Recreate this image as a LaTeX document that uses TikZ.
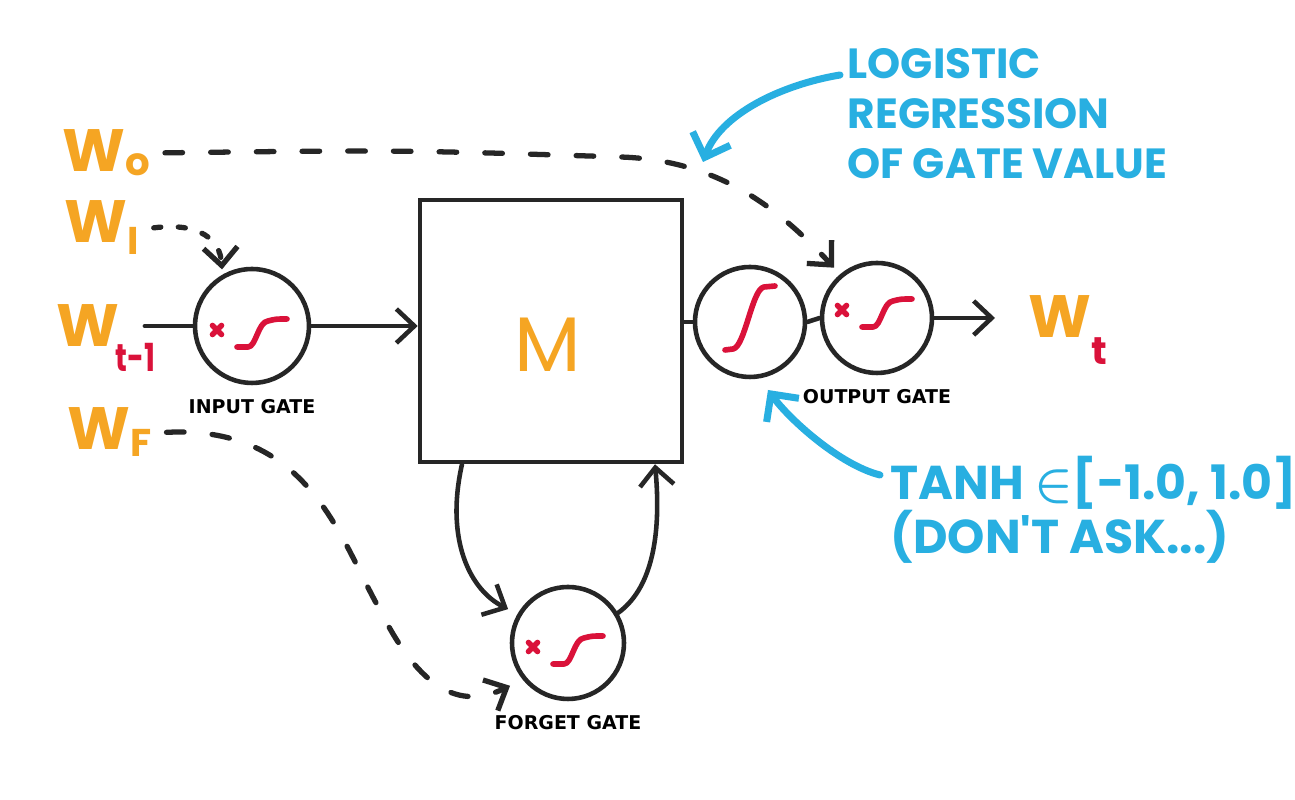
\documentclass[tikz,border=0pt]{standalone}
\usepackage{amsmath}
\usepackage{fontspec}
\setmainfont{DejaVu Sans}
\newfontfamily\handfont{Poppins}
\usepackage{tikz}
\usetikzlibrary{arrows.meta,positioning}
\definecolor{inkgray}{RGB}{38,38,38}
\definecolor{penorange}{RGB}{245,165,35}
\definecolor{penred}{RGB}{218,18,58}
\definecolor{penblue}{RGB}{40,175,225}
\newcommand{\wsub}[3]{\raisebox{#1}{\fontsize{11}{11}\selectfont\color{#2}#3}}

\begin{document}
\begin{tikzpicture}[
  ink/.style={draw=inkgray, line width=1.3pt, line cap=round},
  gate/.style={circle, draw=inkgray, line width=1.3pt, minimum size=1.12cm, inner sep=0pt},
  arr/.style={-{Straight Barb[length=1.8mm,width=3.4mm]}},
  dashline/.style={draw=inkgray, line width=1.5pt, line cap=round, dash pattern=on 5pt off 8pt},
  dotline/.style={draw=inkgray, line width=1.5pt, line cap=round, dash pattern=on 2pt off 5pt},
  wlab/.style={text=penorange, font=\handfont\bfseries\fontsize{17}{17}\selectfont, inner sep=4pt},
  gatelab/.style={font=\bfseries\fontsize{5.4}{6}\selectfont, inner sep=1pt},
  bluetxt/.style={text=penblue, align=left, inner sep=0pt},
  bluearr/.style={draw=penblue, line width=2pt, line cap=round, -{Straight Barb[length=2mm,width=4mm]}},
  sig/.style={draw=penred, line width=1.6pt, line cap=round, line join=round},
  xsig/.pic={
    \draw[sig] (-0.395,-0.085) -- (-0.305,0.005) (-0.395,0.005) -- (-0.305,-0.085);
    \draw[sig] (-0.15,-0.21) -- (-0.04,-0.21) .. controls (0.04,-0.21) and (0.06,0.04) .. (0.16,0.05)
      .. controls (0.24,0.07) .. (0.35,0.07);
  },
  tanhsig/.pic={
    \draw[sig] (-0.25,-0.28) -- (-0.17,-0.27) .. controls (-0.05,-0.25) and (0.02,0.33) .. (0.14,0.35) -- (0.25,0.36);
  },
]
% Fondo y marco
\fill[white] (0,0) rectangle (12.95,8);
\useasboundingbox (0,0) rectangle (12.95,8);

% Compuertas y memoria
\node[gate, minimum size=1.14cm] (ingate) at (2.52,4.74) {};
\node[draw=inkgray, line width=1.3pt, minimum size=2.62cm, inner sep=0pt] (mem) at (5.51,4.69) {};
\node[text=penorange, font=\handfont\fontsize{22}{22}\selectfont] (mlab) at (5.48,4.55) {M};
\node[gate, minimum size=1.10cm] (tanhgate) at (7.50,4.78) {};
\node[gate, minimum size=1.10cm] (outgate) at (8.77,4.82) {};
\node[gate] (forget) at (5.68,1.57) {};

% Etiquetas de las compuertas
\node[gatelab, below=0.1cm of ingate] (inlab) {INPUT GATE};
\node[gatelab, below=0.1cm of outgate] (outlab) {OUTPUT GATE};
\node[gatelab, below=0.1cm of forget] (forlab) {FORGET GATE};

% Sigmoides
\pic at (ingate) {xsig};
\pic at ([yshift=0.12cm]outgate.center) {xsig};
\pic at (forget) {xsig};
\pic at (tanhgate) {tanhsig};

% Entradas
\node[wlab, anchor=base west] (w0) at (0.48,6.28) {W\wsub{-0.1ex}{penorange}{o}};
\node[wlab, anchor=base west] (wi) at (0.50,5.57) {W\wsub{-0.35ex}{penorange}{I}};
\node[wlab, anchor=base west] (wprev) at (0.42,4.53)
  {W\hspace{-0.04cm}\wsub{-0.75ex}{penred}{\scalebox{0.75}[1]{t-1}}};
\node[wlab, anchor=base west] (wf) at (0.53,3.50) {W\wsub{-0.2ex}{penorange}{F}};
\node[wlab, anchor=base west] (wt) at (10.14,4.62) {W\wsub{-0.8ex}{penred}{t}};

% Conexiones
\draw[ink] ([xshift=-0.25cm]wprev.east |- ingate.west) -- (ingate.west);
\draw[ink, arr] (ingate.east) -- (mem.west |- ingate.east);
\draw[ink] (mem.east |- tanhgate.west) -- (tanhgate.west);
\draw[ink] (tanhgate.east) -- (outgate.west);
\coordinate (outend) at (9.95,4.82);
\draw[ink, arr] (outgate.east) -- (outend);

% Bucle de olvido
\draw[ink, arr, shorten >=3pt] ([xshift=-0.89cm]mem.south) .. controls (4.45,2.6) and (4.7,2.1) .. (forget.150);
\draw[ink, arr] (forget.31) .. controls (6.5,2.1) and (6.62,2.6) .. ([xshift=1.04cm]mem.south);

% Pesos de las compuertas (discontinuas)
\draw[dashline, arr, shorten >=2.5pt] (w0.east) .. controls (4.0,6.5) .. (6.2,6.43)
  .. controls (7.2,6.4) and (7.8,5.9) .. (outgate.130);
\draw[dotline, arr, shorten >=1.5pt] (wi.east) .. controls (2.0,5.78) and (2.2,5.6) .. (ingate.120);
\draw[dashline, arr, shorten >=4pt] (wf.east) .. controls (3.1,3.75) and (3.4,2.6) .. (3.8,1.9)
  .. controls (4.2,1.1) and (4.6,0.9) .. (forget.219);

% Notas en azul
\node[bluetxt, anchor=north west, font=\handfont\bfseries\fontsize{12}{14.2}\selectfont] (logit) at (8.47,7.52)
  {LOGISTIC\\REGRESSION\\OF GATE VALUE};
\coordinate (logtip) at (7.03,6.38);
\draw[bluearr] ([xshift=-0.07cm,yshift=-0.27cm]logit.north west) .. controls (7.8,7.15) and (7.2,6.85) .. (logtip);
\node[bluetxt, anchor=north west, font=\handfont\bfseries\fontsize{13.5}{15.6}\selectfont] (tanhtxt) at (8.90,3.45)
  {TANH $\boldsymbol{\in}$[-1.0, 1.0]\\(DON'T ASK...)};
\coordinate (tanhtip) at (7.68,4.10);
\draw[bluearr] ([xshift=-0.1cm,yshift=-0.2cm]tanhtxt.north west) .. controls (8.4,3.35) and (7.9,3.8) .. (tanhtip);
\end{tikzpicture}
\end{document}
